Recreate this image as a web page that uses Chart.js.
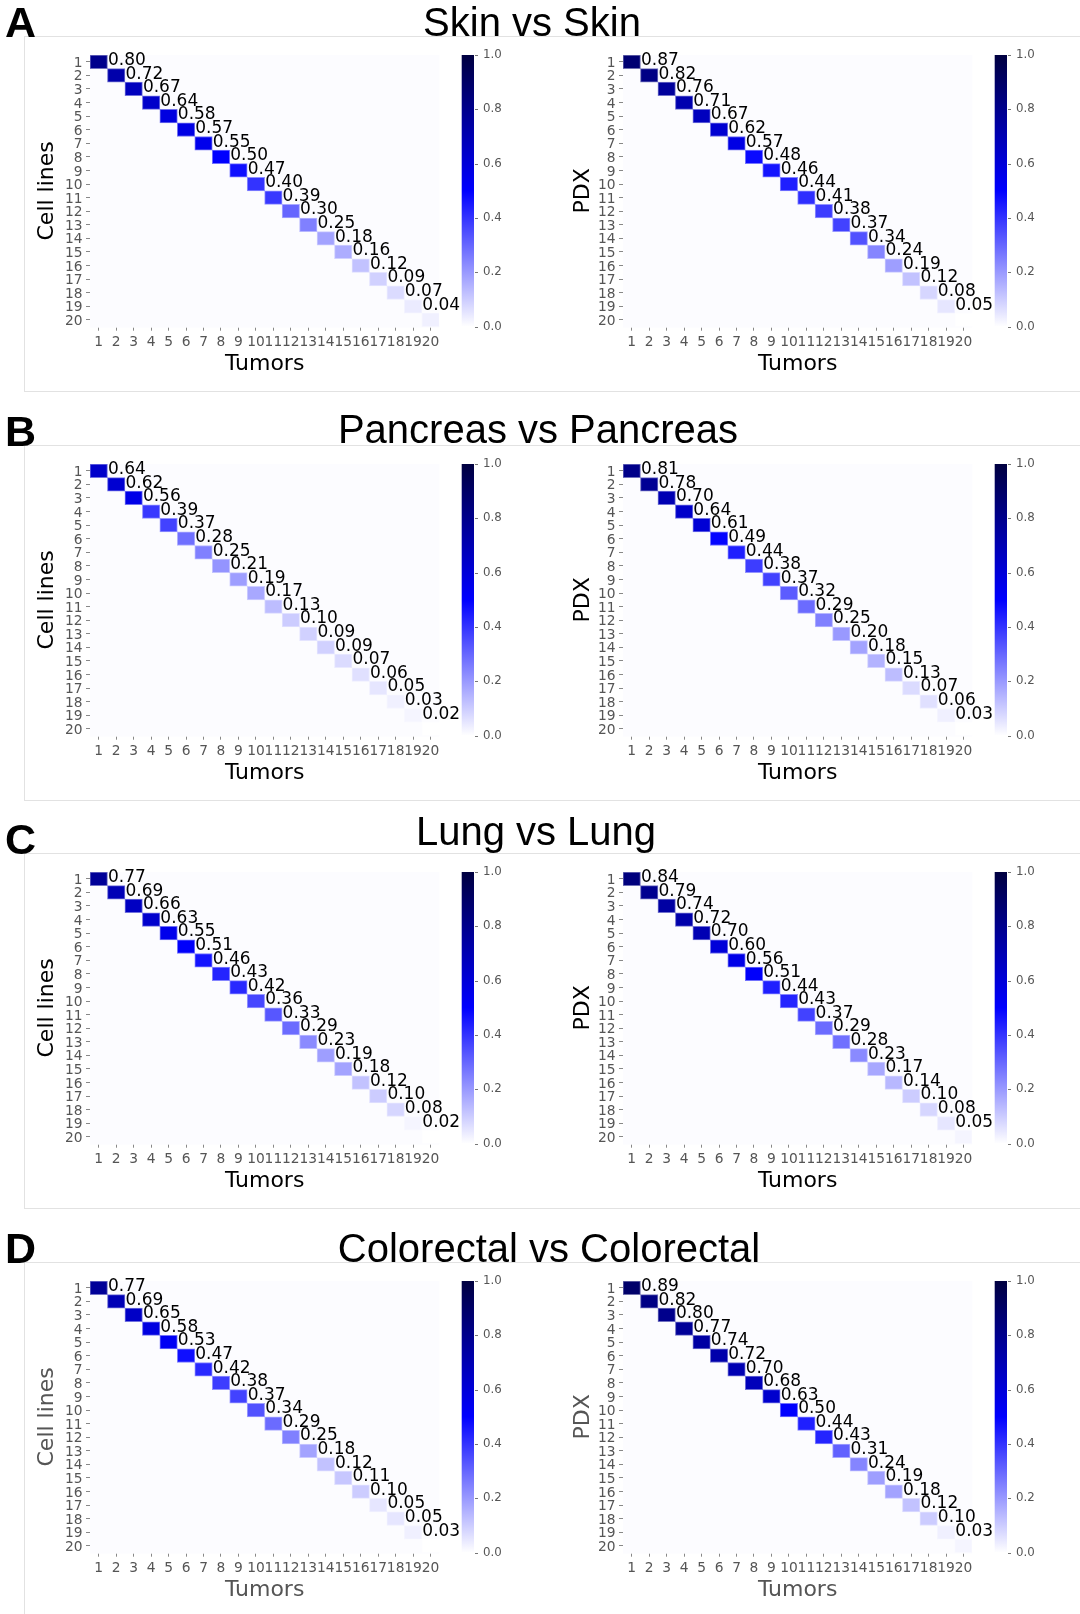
<!DOCTYPE html>
<html>
<head>
<meta charset="utf-8">
<script src="https://cdn.jsdelivr.net/npm/chart.js@4.4.1/dist/chart.umd.min.js"></script>
<style>
  body { margin: 0; background: #fff; }
  #page { position: relative; width: 1080px; height: 1614px; overflow: hidden; }
  .card { position: absolute; left: 24px; width: 1100px; height: 354px; border: 1px solid #e2e2e2; box-sizing: content-box; }
  .title { position: absolute; font: 40px "Liberation Sans", Arial, sans-serif; line-height: 40px; white-space: nowrap; transform: translateX(-50%); color: #000; }
  .letter { position: absolute; left: 5px; font: bold 43px "Liberation Sans", Arial, sans-serif; line-height: 43px; color: #000; }
  canvas { position: absolute; }
</style>
</head>
<body>
<div id="page"></div>
<script>
// categories
const tumors = ['1', '2', '3', '4', '5', '6', '7', '8', '9', '10', '11', '12', '13', '14', '15', '16', '17', '18', '19', '20'];
const cellLines = [1, 2, 3, 4, 5, 6, 7, 8, 9, 10, 11, 12, 13, 14, 15, 16, 17, 18, 19, 20];
const cbTicks = [0, 0.2, 0.4, 0.6, 0.8, 1.0];

// diagonal values (the last cell of each map carries no label)
const skinCellLines = [0.80, 0.72, 0.67, 0.64, 0.58, 0.57, 0.55, 0.50, 0.47, 0.40, 0.39, 0.30, 0.25, 0.18, 0.16, 0.12, 0.09, 0.07, 0.04, 0.03];
const skinPdx = [0.87, 0.82, 0.76, 0.71, 0.67, 0.62, 0.57, 0.48, 0.46, 0.44, 0.41, 0.38, 0.37, 0.34, 0.24, 0.19, 0.12, 0.08, 0.05, 0.00];
const pancreasCellLines = [0.64, 0.62, 0.56, 0.39, 0.37, 0.28, 0.25, 0.21, 0.19, 0.17, 0.13, 0.10, 0.09, 0.09, 0.07, 0.06, 0.05, 0.03, 0.02, 0.00];
const pancreasPdx = [0.81, 0.78, 0.70, 0.64, 0.61, 0.49, 0.44, 0.38, 0.37, 0.32, 0.29, 0.25, 0.20, 0.18, 0.15, 0.13, 0.07, 0.06, 0.03, 0.00];
const lungCellLines = [0.77, 0.69, 0.66, 0.63, 0.55, 0.51, 0.46, 0.43, 0.42, 0.36, 0.33, 0.29, 0.23, 0.19, 0.18, 0.12, 0.10, 0.08, 0.02, 0.00];
const lungPdx = [0.84, 0.79, 0.74, 0.72, 0.70, 0.60, 0.56, 0.51, 0.44, 0.43, 0.37, 0.29, 0.28, 0.23, 0.17, 0.14, 0.10, 0.08, 0.05, 0.02];
const colorectalCellLines = [0.77, 0.69, 0.65, 0.58, 0.53, 0.47, 0.42, 0.38, 0.37, 0.34, 0.29, 0.25, 0.18, 0.12, 0.11, 0.10, 0.05, 0.05, 0.03, 0.00];
const colorectalPdx = [0.89, 0.82, 0.80, 0.77, 0.74, 0.72, 0.70, 0.68, 0.63, 0.50, 0.44, 0.43, 0.31, 0.24, 0.19, 0.18, 0.12, 0.10, 0.03, 0.02];
const labeledCells = 19;
const offDiagonal = 0.006;

const panelLetters = ['A', 'B', 'C', 'D'];
const panelTitles = ['Skin vs Skin', 'Pancreas vs Pancreas', 'Lung vs Lung', 'Colorectal vs Colorectal'];
const rowTitles = ['Cell lines', 'PDX'];
const colTitle = 'Tumors';

// layout
const cardTops = [36, 445, 853, 1262];
const titleCenters = [532, 538, 536, 549];
const titleBaselines = [35.6, 443.3, 845, 1261.7];
const axisTitleColors = ['#000', '#000', '#000', '#555'];

Chart.defaults.font.family = '"DejaVu Sans", sans-serif';

// white -> blue -> dark navy
function rgbAt(v) {
  v = Math.max(0, Math.min(1, v));
  if (v <= 0.5) {
    const t = v / 0.5;
    return [255 * (1 - t), 255 * (1 - t), 255];
  }
  const t = (v - 0.5) / 0.5;
  return [0, 0, 255 + (64 - 255) * t];
}
function toCss(c) {
  return 'rgb(' + c.map(Math.round).join(',') + ')';
}
function cmap(v) {
  return toCss(rgbAt(v));
}
function edge(v) {
  const a = rgbAt(v), b = rgbAt(offDiagonal);
  return toCss(a.map((x, i) => x * 0.55 + b[i] * 0.45));
}

const heatPlugin = {
  id: 'heat',
  beforeDatasetsDraw(chart) {
    const { ctx, chartArea: a } = chart;
    ctx.save();
    ctx.fillStyle = cmap(offDiagonal);
    ctx.fillRect(a.left, a.top, a.width, a.height + 1);
    ctx.restore();
  },
  afterDatasetsDraw(chart, args, opts) {
    const { ctx } = chart;
    const meta = chart.getDatasetMeta(0);
    const y = chart.scales.y;
    ctx.save();
    ctx.font = '17px "DejaVu Sans"';
    ctx.fillStyle = '#000';
    ctx.textAlign = 'left';
    ctx.textBaseline = 'alphabetic';
    opts.values.forEach((v, i) => {
      if (i >= labeledCells) return;
      const bar = meta.data[i];
      ctx.fillText(v.toFixed(2), bar.x + bar.width / 2 + 0.5, y.getPixelForValue(cellLines[i]) + 3.2);
    });
    ctx.restore();
  },
  afterDraw(chart) {
    const { ctx, chartArea: a } = chart;
    const cb = chart.scales.cb;
    const x0 = a.right + 22.4, w = 12.3;
    const yTop = cb.getPixelForValue(1), yBot = cb.getPixelForValue(0);
    const g = ctx.createLinearGradient(0, yBot, 0, yTop);
    [0, 0.25, 0.5, 0.75, 1].forEach(s => g.addColorStop(s, cmap(s)));
    ctx.save();
    ctx.fillStyle = g;
    ctx.fillRect(x0, yTop, w, yBot - yTop);
    ctx.strokeStyle = '#777';
    ctx.lineWidth = 1;
    cbTicks.forEach(t => {
      const yy = Math.round(cb.getPixelForValue(t)) + 0.5;
      ctx.beginPath();
      ctx.moveTo(x0 + w + 1, yy);
      ctx.lineTo(x0 + w + 4, yy);
      ctx.stroke();
    });
    ctx.restore();
  }
};

function heatmap(canvas, values, yTitle, titleColor, yTitlePad) {
  return new Chart(canvas, {
    type: 'bar',
    data: {
      labels: tumors,
      datasets: [{
        data: cellLines.map(r => [r - 0.5, r + 0.5]),
        backgroundColor: values.map(cmap),
        borderColor: values.map(edge),
        borderWidth: 1,
        borderSkipped: false,
        categoryPercentage: 1,
        barPercentage: 1
      }]
    },
    options: {
      responsive: false,
      animation: false,
      devicePixelRatio: 1,
      layout: { padding: { left: 0, top: 20, right: 20.7, bottom: 3 } },
      plugins: {
        legend: { display: false },
        tooltip: { enabled: false },
        heat: { values: values }
      },
      scales: {
        x: {
          grid: { drawOnChartArea: false, offset: false, tickLength: 4, color: '#888' },
          border: { display: false },
          ticks: { autoSkip: false, maxRotation: 0, minRotation: 0, padding: 3, color: '#555', font: { size: 13.8 } },
          title: { display: true, text: colTitle, color: titleColor, font: { size: 22 }, padding: { top: 0, bottom: 0 } },
          afterFit: s => { s.height = 50.3; }
        },
        y: {
          type: 'linear',
          min: 0.5,
          max: 20.5,
          reverse: true,
          afterBuildTicks: s => { s.ticks = cellLines.map(v => ({ value: v })); },
          grid: { drawOnChartArea: false, tickLength: 4, color: '#888' },
          border: { display: false },
          ticks: { autoSkip: false, padding: 3.5, labelOffset: 1.5, color: '#555', font: { size: 13.8 } },
          title: { display: true, text: yTitle, color: titleColor, font: { size: 22 }, padding: { top: yTitlePad, bottom: 0 } },
          afterFit: s => { s.width = 90; }
        },
        cb: {
          type: 'linear',
          axis: 'y',
          position: 'right',
          min: 0,
          max: 1,
          afterBuildTicks: s => { s.ticks = cbTicks.map(v => ({ value: v })); },
          grid: { display: false, drawTicks: true, tickLength: 40 },
          border: { display: false },
          ticks: { autoSkip: false, padding: 3.7, color: '#555', font: { size: 11.8 }, callback: v => v.toFixed(1) },
          afterFit: s => { s.width = 80; }
        }
      }
    },
    plugins: [heatPlugin]
  });
}

const panelValues = [
  [skinCellLines, skinPdx],
  [pancreasCellLines, pancreasPdx],
  [lungCellLines, lungPdx],
  [colorectalCellLines, colorectalPdx]
];

const page = document.getElementById('page');
panelTitles.forEach((title, p) => {
  const card = document.createElement('div');
  card.className = 'card';
  card.style.top = cardTops[p] + 'px';
  page.appendChild(card);

  const heatTop = cardTops[p] + 19;
  [0, 1].forEach(side => {
    const cv = document.createElement('canvas');
    cv.width = 540;
    cv.height = 345;
    cv.style.left = (side === 0 ? 0 : 533.3) + 'px';
    cv.style.top = (heatTop - 20) + 'px';
    page.appendChild(cv);
    heatmap(cv, panelValues[p][side], rowTitles[side], axisTitleColors[p], side === 0 ? 34 : 37);
  });

  const t = document.createElement('div');
  t.className = 'title';
  t.textContent = title;
  t.style.left = titleCenters[p] + 'px';
  t.style.top = (titleBaselines[p] - 33.85) + 'px';
  page.appendChild(t);

  const l = document.createElement('div');
  l.className = 'letter';
  l.textContent = panelLetters[p];
  l.style.top = (cardTops[p] + 1 - 36.4) + 'px';
  page.appendChild(l);
});
</script>
</body>
</html>
